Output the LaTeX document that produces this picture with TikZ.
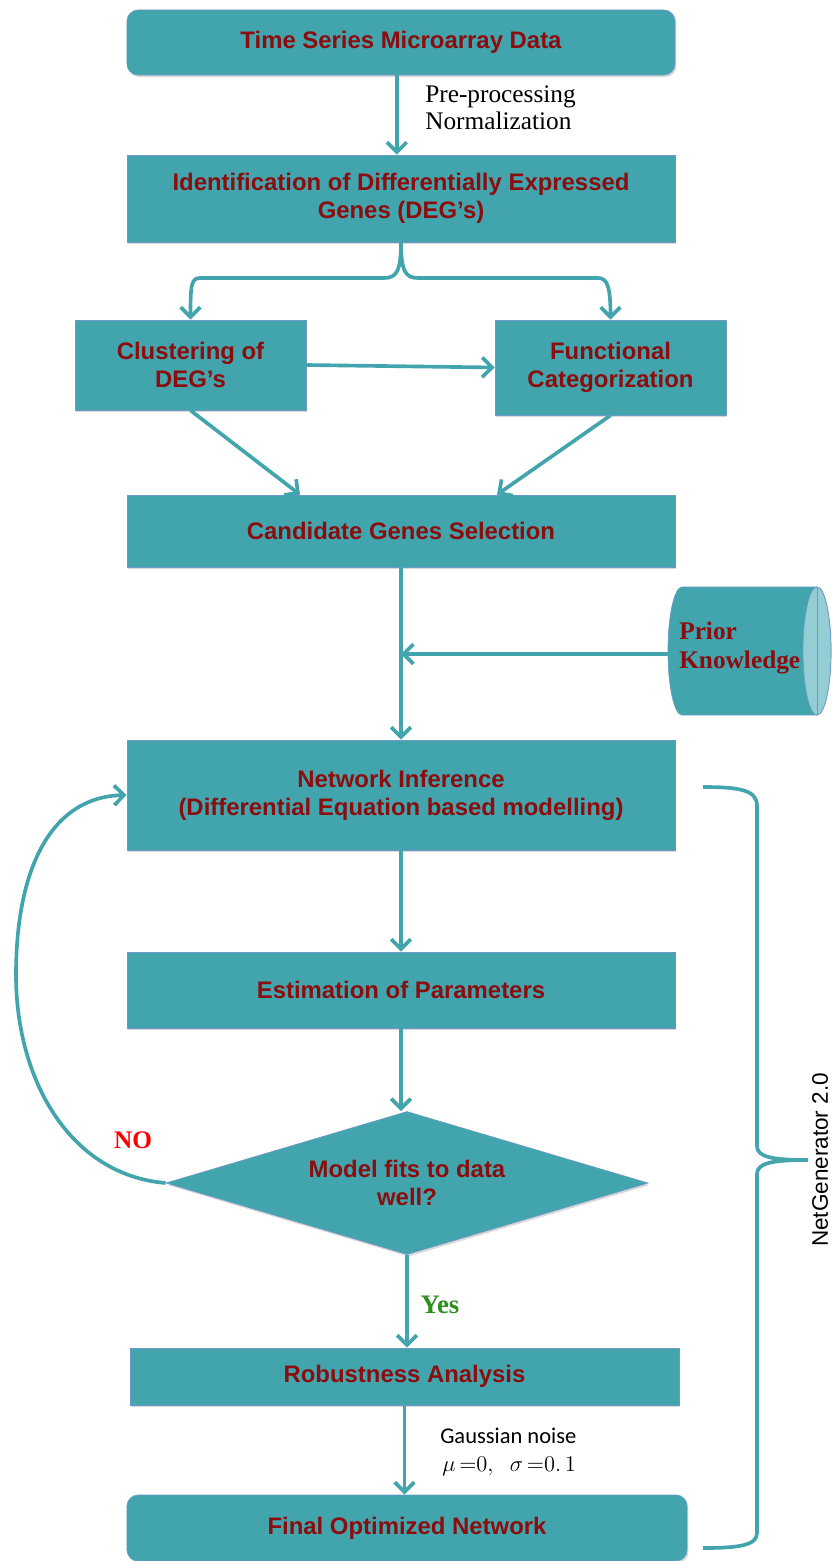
\RequirePackage{fix-cm}
\documentclass[tikz,border=0pt]{standalone}
\usepackage{fontspec}
\setsansfont{Liberation Sans}
\newfontfamily\calibrifont{Carlito}
\newfontfamily\cambriafont{Liberation Serif}
\usetikzlibrary{shapes.geometric, arrows.meta, shadows, calc}
\definecolor{boxteal}{HTML}{42A4AD}
\definecolor{endteal}{HTML}{94CDD3}
\definecolor{boxedge}{HTML}{6C9AC6}
\definecolor{boxtext}{HTML}{8B0D0D}
\definecolor{yesgreen}{HTML}{2F8F1F}

\begin{document}
\begin{tikzpicture}[x=0.025cm, y=-0.025cm,
  box/.style={rectangle, fill=boxteal, draw=boxedge, line width=0.5pt, text=boxtext, align=center, inner sep=2pt,
    font=\fontsize{17}{20}\selectfont\sffamily\bfseries, drop shadow={shadow xshift=1pt, shadow yshift=-1.5pt, opacity=0.3}},
  flow/.style={draw=boxteal, line width=2.6pt, -{Straight Barb[length=7pt, width=14pt]}},
  note/.style={font=\cambriafont\fontsize{18}{19.5}\selectfont, align=left, anchor=west, inner sep=0pt}]
\useasboundingbox (0,0) rectangle (831,1561);
\node[box, rounded corners=8pt, minimum width=13.7cm, minimum height=1.625cm] (tsdata) at (401,42.5) {Time Series Microarray Data};
\node[box, minimum width=13.7cm, minimum height=2.175cm] (deg) at (401,198.5) {Identification of Differentially Expressed\\Genes (DEG’s)};
\node[box, minimum width=5.775cm, minimum height=2.25cm] (clust) at (190.5,365) {Clustering of\\DEG’s};
\node[box, minimum width=5.775cm, minimum height=2.375cm] (func) at (610.5,367.5) {Functional\\Categorization};
\node[box, minimum width=13.7cm, minimum height=1.8cm] (cand) at (401,531) {Candidate Genes Selection};
\filldraw[fill=boxteal, draw=boxedge, line width=0.5pt] (817,587) -- (682,587) arc[start angle=90, end angle=270, x radius=0.35cm, y radius=1.6cm]
  -- (817,715) arc[start angle=270, end angle=450, x radius=0.35cm, y radius=1.6cm] -- cycle;
\filldraw[fill=endteal, draw=boxedge, line width=0.5pt] (817,651) ellipse[x radius=0.35cm, y radius=1.6cm];
\draw[boxedge, line width=0.5pt] (817,587) -- (817,715);
\node[anchor=west, align=left, inner sep=0pt, text=boxtext, font=\cambriafont\fontsize{18}{20.5}\selectfont\bfseries] (prior) at (679,648) {Prior\\Knowledge};
\coordinate (priorleft) at (668,654);
\node[box, minimum width=13.7cm, minimum height=2.75cm] (netinf) at (401,795) {Network Inference\\(Differential Equation based modelling)};
\node[box, minimum width=13.7cm, minimum height=1.9cm] (estim) at (401,990) {Estimation of Parameters};
\node[box, diamond, aspect=3.37, minimum width=12.05cm, minimum height=3.575cm, inner sep=0pt] (fit) at (407,1183) {Model fits to data\\well?};
\node[box, minimum width=13.725cm, minimum height=1.425cm] (robust) at (404.5,1376.5) {Robustness Analysis};
\node[box, rounded corners=8pt, minimum width=14cm, minimum height=1.65cm] (final) at (407,1528) {Final Optimized Network};

\node[note] (prep) at (425,108) {Pre-processing\\Normalization};
\node[font=\cambriafont\fontsize{18}{20}\selectfont\bfseries, text=red] (no) at (133,1140) {NO};
\node[font=\cambriafont\fontsize{19}{20}\selectfont\bfseries, text=yesgreen] (yes) at (440,1305) {Yes};
\node[note, font=\calibrifont\fontsize{16}{19}\selectfont] (gauss) at (440,1436) {Gaussian noise};
\node[note, font=\fontsize{16}{19}\selectfont] (noise) at (442,1466) {$\mu\,{=}0,\;\;\sigma\,{=}0.\,1$};
\node[rotate=90, font=\sffamily\fontsize{16}{19}\selectfont] (netgen) at (820,1160) {NetGenerator 2.0};

\draw[flow] ([xshift=-3pt]tsdata.south) -- ([xshift=-3pt]deg.north);
\draw[flow] (deg.south) .. controls (401,272) and (396,278) .. (384,278) -- (200,278) .. controls (191,278) and (clust.north |- 0,286) .. (clust.north);
\draw[flow] (deg.south) .. controls (401,272) and (406,278) .. (418,278) -- (598,278) .. controls (607,278) and (func.north |- 0,286) .. (func.north);
\draw[flow] (clust.east) -- (func.west);
\draw[flow] (clust.south) -- ($(cand.north)+(-101,0)$);
\draw[flow] (func.south) -- ($(cand.north)+(96,0)$);
\draw[flow] (cand.south) -- (netinf.north);
\draw[flow] (priorleft) -- (priorleft -| cand.south);
\draw[flow] (netinf.south) -- (estim.north);
\draw[flow] (estim.south) -- (estim.south |- fit.north);
\draw[flow] (fit.south) -- (fit.south |- robust.north);
\draw[flow] (robust.south) -- (robust.south |- final.north);
\draw[flow] (fit.west) .. controls (70,1175) and (16,1080) .. (16,975) .. controls (16,870) and (50,797) .. (netinf.west);
\draw[boxteal, line width=2.6pt] (703,787) .. controls (740,787) and (757,790) .. (757,806) -- (757,1146)
  .. controls (757,1157) and (772,1160) .. (808,1160) .. controls (772,1160) and (757,1163) .. (757,1174)
  -- (757,1533) .. controls (757,1545) and (740,1548) .. (703,1548);
\end{tikzpicture}
\end{document}
